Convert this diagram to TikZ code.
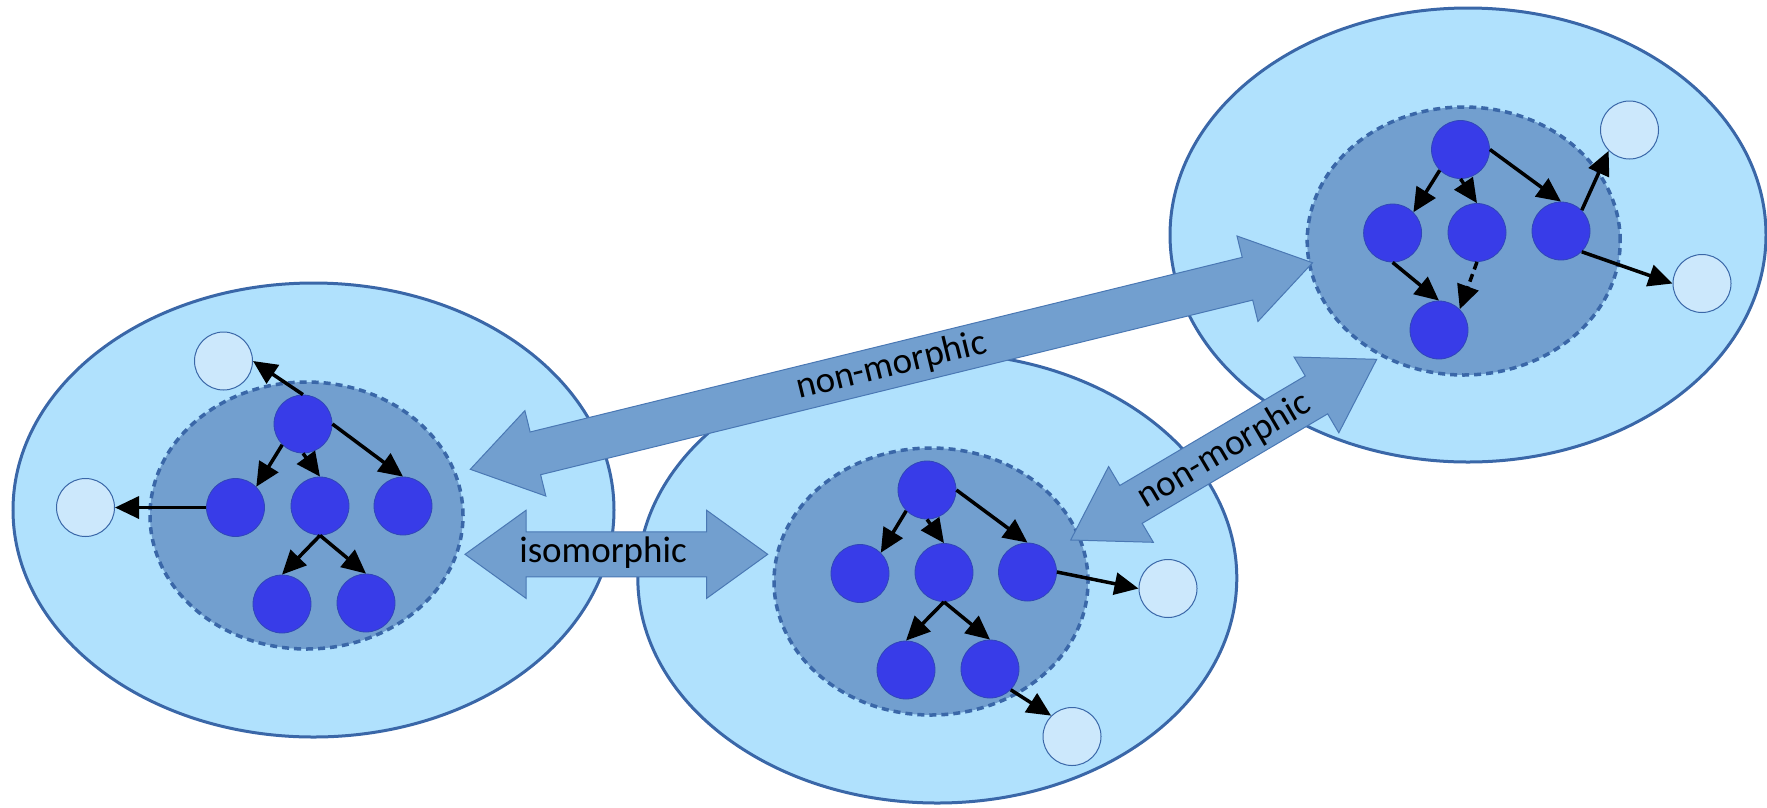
\documentclass[tikz,border=0pt]{standalone}
\usepackage{fontspec}
\setmainfont{Carlito}
\usetikzlibrary{arrows.meta,shapes.geometric}

\definecolor{skyfill}{HTML}{B0E1FD}
\definecolor{edgeblue}{HTML}{3A67A8}
\definecolor{innerfill}{HTML}{729FCF}
\definecolor{nodeblue}{HTML}{383CE8}
\definecolor{nodeedge}{HTML}{3046B8}
\definecolor{ghostfill}{HTML}{CCE8FC}
\definecolor{arrowedge}{HTML}{4A78B4}

\begin{document}
\begin{tikzpicture}[x=1pt,y=-1pt,
  bigell/.style={ellipse, draw=edgeblue, line width=3pt, fill=skyfill, inner sep=0pt},
  innerell/.style={ellipse, draw=edgeblue, line width=3.5pt, dash pattern=on 7pt off 5pt, fill=innerfill, inner sep=0pt},
  vtx/.style={circle, fill=nodeblue, draw=nodeedge, line width=0.8pt, minimum size=58pt, inner sep=0pt},
  ghost/.style={circle, fill=ghostfill, draw=edgeblue, line width=1pt, minimum size=58pt, inner sep=0pt},
  link/.style={-{Triangle[length=24pt,width=22pt]}, line width=3.5pt, black},
  fat/.style={fill=innerfill, draw=arrowedge, line width=1pt, line join=miter},
  lbl/.style={font=\fontsize{37}{44}\selectfont, inner sep=0pt, text=black}
]
\useasboundingbox (0,0) rectangle (1767,807);

% ---------- outer regions ----------
\node[bigell, minimum width=601pt, minimum height=454pt] (Lbig) at (313.5,510) {};
\node[bigell, minimum width=599pt, minimum height=450pt] (Mbig) at (937.3,578) {};
\node[bigell, minimum width=596pt, minimum height=454pt] (Rbig) at (1468,235) {};

% ---------- dashed cores ----------
\node[innerell, minimum width=313pt, minimum height=267pt] (Lcore) at (306.5,515.5) {};
\node[innerell, minimum width=314pt, minimum height=267pt] (Mcore) at (931,581.5) {};
\node[innerell, minimum width=313pt, minimum height=268pt] (Rcore) at (1463.7,241) {};

% ---------- left graph ----------
\node[vtx] (Lt)  at (303,424) {};
\node[vtx] (Lml) at (235.5,507.5) {};
\node[vtx] (Lmc) at (320,506) {};
\node[vtx] (Lmr) at (403,506) {};
\node[vtx] (Lbl) at (282,604) {};
\node[vtx] (Lbr) at (366,603) {};
\node[ghost] (Lg1) at (223.5,361) {};
\node[ghost] (Lg2) at (85.5,507.5) {};

\draw[link] (Lt.north) -- (Lg1.east);
\draw[link] (Lt.south west) -- (Lml.north east);
\draw[link] (Lt.south) -- (Lmc.north);
\draw[link] (Lt.east) -- (Lmr.north);
\draw[link] (Lmc.south) -- (Lbl.north);
\draw[link] (Lmc.south) -- (Lbr.north);
\draw[link] (Lml.west) -- (Lg2.east);

% ---------- middle graph ----------
\node[vtx] (Mt)  at (927,490) {};
\node[vtx] (Mml) at (860,573.5) {};
\node[vtx] (Mmc) at (944,572.5) {};
\node[vtx] (Mmr) at (1027.5,572) {};
\node[vtx] (Mbl) at (906,670) {};
\node[vtx] (Mbr) at (990,669) {};
\node[ghost] (Mg1) at (1168,588.5) {};
\node[ghost] (Mg2) at (1072,736.5) {};

\draw[link] (Mt.south west) -- (Mml.north east);
\draw[link] (Mt.south) -- (Mmc.north);
\draw[link] (Mt.east) -- (Mmr.north);
\draw[link] (Mmc.south) -- (Mbl.north);
\draw[link] (Mmc.south) -- (Mbr.north);
\draw[link] (Mmr.east) -- (Mg1.west);
\draw[link] (Mbr.south east) -- (Mg2.north west);

% ---------- right graph ----------
\node[vtx] (Rt)  at (1460.5,149.5) {};
\node[vtx] (Rml) at (1392.6,233) {};
\node[vtx] (Rmc) at (1477,232.5) {};
\node[vtx] (Rmr) at (1561,231) {};
\node[vtx] (Rb)  at (1439,330) {};
\node[ghost] (Rg1) at (1629.5,130) {};
\node[ghost] (Rg2) at (1702,283.5) {};

\draw[link] (Rt.south west) -- (Rml.north east);
\draw[link] (Rt.south) -- (Rmc.north);
\draw[link] (Rt.east) -- (Rmr.north);
\draw[link] (Rml.south) -- (Rb.north);
\draw[link, dash pattern=on 8pt off 5pt] (Rmc.south) -- (Rb.north east);
\draw[link] (Rmr.north east) -- (Rg1.south west);
\draw[link] (Rmr.south east) -- (Rg2.west);

% ---------- block arrows between the regions ----------
\coordinate (isoA) at (465,554.3);
\coordinate (nmA)  at (470.3,469.3);
\coordinate (nsA)  at (1070.7,540);

% isomorphic: left core <-> middle core
\begin{scope}[shift={(isoA)}]
  \draw[fat] (0,0) -- (61,-44) -- (61,-22.5) -- (241.7,-22.5) -- (241.7,-44)
    -- (302.7,0) -- (241.7,44) -- (241.7,22.5) -- (61,22.5) -- (61,44) -- cycle;
  \node[lbl] (isotext) at (138,-1.5) {isomorphic};
\end{scope}

% non-morphic: left core <-> right core
\begin{scope}[shift={(nmA)}, rotate=13.78]
  \draw[fat] (0,0) -- (67,-44) -- (67,-22) -- (800.2,-22) -- (800.2,-44)
    -- (867.2,0) -- (800.2,44) -- (800.2,22) -- (67,22) -- (67,44) -- cycle;
  \node[lbl, transform shape] (nmtext) at (433.6,0) {non-morphic};
\end{scope}

% non-morphic: middle core <-> right core
\begin{scope}[shift={(nsA)}, rotate=30.56]
  \draw[fat] (0,0) -- (70,-44) -- (70,-22) -- (285.4,-22) -- (285.4,-44)
    -- (355.4,0) -- (285.4,44) -- (285.4,22) -- (70,22) -- (70,44) -- cycle;
  \node[lbl, transform shape] (nstext) at (177.7,1.5) {non-morphic};
\end{scope}

\end{tikzpicture}
\end{document}
